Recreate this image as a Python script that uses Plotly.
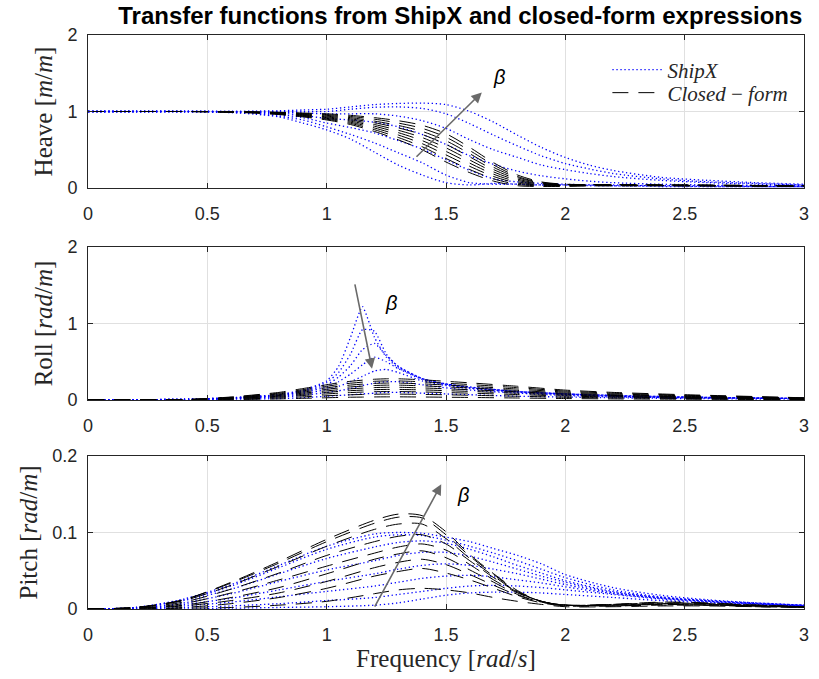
import plotly.graph_objects as go

# ---------------- data ----------------
heave_freq = [0, 0.2, 0.4, 0.5, 0.6, 0.7, 0.8, 0.9, 1.0, 1.1, 1.2, 1.3, 1.4, 1.5, 1.6, 1.7, 1.8, 1.9, 2.0, 2.1, 2.2, 2.4, 2.6, 2.8, 3.0]
heave_shipx = [
    [1, 1, 1, 1, 1, 1.005, 1.01, 1.02, 1.03, 1.06, 1.09, 1.105, 1.11, 1.09, 1.0, 0.86, 0.69, 0.53, 0.4, 0.3, 0.23, 0.14, 0.1, 0.07, 0.05],
    [1, 1, 1, 1, 1, 1, 1.0, 1.0, 1.0, 1.03, 1.055, 1.06, 1.04, 0.97, 0.84, 0.69, 0.55, 0.42, 0.32, 0.25, 0.19, 0.12, 0.08, 0.06, 0.04],
    [1, 1, 1, 1, 1, 0.995, 0.99, 0.98, 0.97, 0.97, 0.97, 0.94, 0.88, 0.78, 0.63, 0.5, 0.4, 0.3, 0.24, 0.19, 0.15, 0.1, 0.07, 0.05, 0.04],
    [1, 1, 1, 1, 0.995, 0.99, 0.98, 0.95, 0.91, 0.89, 0.86, 0.8, 0.7, 0.57, 0.42, 0.31, 0.22, 0.16, 0.12, 0.09, 0.07, 0.05, 0.04, 0.03, 0.03],
    [1, 1, 1, 1, 0.995, 0.985, 0.96, 0.92, 0.85, 0.79, 0.72, 0.62, 0.51, 0.37, 0.23, 0.12, 0.08, 0.06, 0.05, 0.04, 0.04, 0.03, 0.03, 0.02, 0.02],
    [1, 1, 1, 0.995, 0.99, 0.975, 0.94, 0.89, 0.8, 0.7, 0.59, 0.46, 0.33, 0.17, 0.07, 0.05, 0.05, 0.04, 0.04, 0.04, 0.03, 0.03, 0.02, 0.02, 0.02],
    [1, 1, 1, 0.995, 0.985, 0.965, 0.93, 0.85, 0.76, 0.64, 0.47, 0.3, 0.17, 0.07, 0.04, 0.06, 0.05, 0.04, 0.04, 0.03, 0.03, 0.02, 0.02, 0.02, 0.02],
]
heave_closed = [
    [1, 1, 1, 1, 1, 0.995, 0.99, 0.98, 0.97, 0.95, 0.92, 0.88, 0.82, 0.71, 0.53, 0.33, 0.17, 0.08, 0.05, 0.045, 0.045, 0.042, 0.038, 0.034, 0.03],
    [1, 1, 1, 1, 1, 0.994, 0.987, 0.974, 0.96, 0.935, 0.9, 0.849, 0.78, 0.664, 0.489, 0.3, 0.15, 0.072, 0.047, 0.043, 0.043, 0.04, 0.037, 0.033, 0.03],
    [1, 1, 1, 1, 0.998, 0.992, 0.985, 0.968, 0.95, 0.92, 0.875, 0.818, 0.74, 0.618, 0.448, 0.27, 0.135, 0.065, 0.043, 0.041, 0.041, 0.038, 0.035, 0.032, 0.029],
    [1, 1, 1, 1, 0.997, 0.99, 0.982, 0.962, 0.94, 0.905, 0.853, 0.786, 0.7, 0.571, 0.406, 0.24, 0.117, 0.057, 0.04, 0.039, 0.039, 0.036, 0.034, 0.031, 0.028],
    [1, 1, 1, 1, 0.996, 0.989, 0.978, 0.956, 0.93, 0.89, 0.83, 0.755, 0.66, 0.525, 0.365, 0.21, 0.1, 0.05, 0.036, 0.037, 0.037, 0.034, 0.033, 0.03, 0.027],
    [1, 1, 1, 1, 0.995, 0.987, 0.975, 0.95, 0.92, 0.875, 0.808, 0.724, 0.62, 0.479, 0.324, 0.18, 0.082, 0.042, 0.033, 0.035, 0.035, 0.033, 0.031, 0.029, 0.026],
    [1, 1, 1, 0.998, 0.993, 0.985, 0.97, 0.943, 0.91, 0.86, 0.785, 0.693, 0.58, 0.433, 0.283, 0.15, 0.065, 0.035, 0.03, 0.033, 0.033, 0.032, 0.03, 0.028, 0.025],
    [1, 1, 1, 0.997, 0.992, 0.982, 0.965, 0.937, 0.9, 0.845, 0.763, 0.661, 0.54, 0.386, 0.241, 0.12, 0.047, 0.027, 0.026, 0.031, 0.031, 0.031, 0.029, 0.027, 0.025],
    [1, 1, 1, 0.995, 0.99, 0.98, 0.96, 0.93, 0.89, 0.83, 0.74, 0.63, 0.5, 0.34, 0.2, 0.09, 0.03, 0.02, 0.022, 0.029, 0.029, 0.03, 0.028, 0.026, 0.024],
]

roll_freq = [0, 0.4, 0.6, 0.8, 0.9, 1.0, 1.05, 1.1, 1.15, 1.2, 1.25, 1.3, 1.4, 1.5, 1.6, 1.8, 2.0, 2.2, 2.5, 3.0]
roll_shipx = [
    [0, 0.01, 0.03, 0.07, 0.13, 0.25, 0.44, 0.82, 1.22, 0.82, 0.56, 0.42, 0.28, 0.21, 0.17, 0.11, 0.08, 0.06, 0.04, 0.02],
    [0, 0.01, 0.03, 0.07, 0.12, 0.23, 0.36, 0.6, 0.92, 0.9, 0.6, 0.44, 0.28, 0.21, 0.17, 0.11, 0.08, 0.06, 0.04, 0.02],
    [0, 0.01, 0.03, 0.06, 0.11, 0.2, 0.3, 0.45, 0.66, 0.74, 0.58, 0.44, 0.28, 0.21, 0.16, 0.11, 0.08, 0.06, 0.04, 0.02],
    [0, 0.01, 0.02, 0.06, 0.1, 0.17, 0.24, 0.34, 0.46, 0.56, 0.5, 0.41, 0.27, 0.2, 0.16, 0.11, 0.08, 0.05, 0.03, 0.02],
    [0, 0.01, 0.02, 0.05, 0.08, 0.14, 0.18, 0.24, 0.31, 0.38, 0.4, 0.36, 0.25, 0.19, 0.15, 0.1, 0.07, 0.05, 0.03, 0.02],
    [0, 0.0, 0.02, 0.04, 0.06, 0.1, 0.12, 0.15, 0.19, 0.22, 0.24, 0.24, 0.2, 0.16, 0.13, 0.09, 0.06, 0.04, 0.03, 0.02],
    [0, 0.0, 0.01, 0.02, 0.03, 0.05, 0.06, 0.07, 0.08, 0.09, 0.1, 0.1, 0.09, 0.08, 0.07, 0.05, 0.04, 0.03, 0.02, 0.01],
]
roll_closed = [
    [0, 0.005, 0.04, 0.1, 0.15, 0.2, 0.225, 0.245, 0.26, 0.272, 0.278, 0.278, 0.265, 0.245, 0.225, 0.18, 0.13, 0.1, 0.07, 0.03],
    [0, 0.005, 0.036, 0.09, 0.135, 0.18, 0.203, 0.22, 0.234, 0.245, 0.25, 0.25, 0.239, 0.22, 0.203, 0.162, 0.117, 0.09, 0.063, 0.027],
    [0, 0.004, 0.032, 0.08, 0.12, 0.16, 0.18, 0.196, 0.208, 0.218, 0.222, 0.222, 0.212, 0.196, 0.18, 0.144, 0.104, 0.08, 0.056, 0.024],
    [0, 0.004, 0.028, 0.07, 0.105, 0.14, 0.158, 0.172, 0.182, 0.19, 0.195, 0.195, 0.186, 0.172, 0.158, 0.126, 0.091, 0.07, 0.049, 0.021],
    [0, 0.003, 0.024, 0.06, 0.09, 0.12, 0.135, 0.147, 0.156, 0.163, 0.167, 0.167, 0.159, 0.147, 0.135, 0.108, 0.078, 0.06, 0.042, 0.018],
    [0, 0.003, 0.02, 0.05, 0.075, 0.1, 0.113, 0.123, 0.13, 0.136, 0.139, 0.139, 0.133, 0.123, 0.113, 0.09, 0.065, 0.05, 0.035, 0.015],
    [0, 0.002, 0.016, 0.04, 0.06, 0.08, 0.09, 0.098, 0.104, 0.109, 0.111, 0.111, 0.106, 0.098, 0.09, 0.072, 0.052, 0.04, 0.028, 0.012],
    [0, 0.001, 0.011, 0.028, 0.042, 0.056, 0.063, 0.069, 0.073, 0.076, 0.078, 0.078, 0.074, 0.069, 0.063, 0.05, 0.036, 0.028, 0.02, 0.008],
    [0, 0.001, 0.006, 0.015, 0.023, 0.03, 0.034, 0.037, 0.039, 0.041, 0.042, 0.042, 0.04, 0.037, 0.034, 0.027, 0.02, 0.015, 0.011, 0.005],
]

pitch_freq = [0, 0.2, 0.4, 0.6, 0.8, 1.0, 1.2, 1.3, 1.4, 1.5, 1.6, 1.7, 1.8, 1.9, 2.0, 2.2, 2.4, 2.6, 2.8, 3.0]
pitch_shipx = [
    [0, 0.002, 0.013, 0.032, 0.057, 0.082, 0.098, 0.1, 0.099, 0.094, 0.088, 0.079, 0.07, 0.059, 0.045, 0.028, 0.018, 0.012, 0.008, 0.005],
    [0, 0.002, 0.012, 0.03, 0.054, 0.078, 0.094, 0.097, 0.096, 0.09, 0.082, 0.073, 0.063, 0.052, 0.041, 0.025, 0.016, 0.011, 0.008, 0.005],
    [0, 0.002, 0.011, 0.026, 0.046, 0.066, 0.081, 0.087, 0.089, 0.086, 0.078, 0.068, 0.057, 0.047, 0.037, 0.023, 0.015, 0.011, 0.007, 0.005],
    [0, 0.001, 0.008, 0.02, 0.036, 0.051, 0.063, 0.07, 0.074, 0.074, 0.069, 0.061, 0.052, 0.043, 0.035, 0.022, 0.015, 0.01, 0.007, 0.005],
    [0, 0.001, 0.006, 0.014, 0.025, 0.036, 0.046, 0.052, 0.057, 0.059, 0.057, 0.052, 0.046, 0.039, 0.032, 0.021, 0.014, 0.01, 0.007, 0.004],
    [0, 0.0, 0.004, 0.009, 0.016, 0.023, 0.03, 0.035, 0.04, 0.043, 0.044, 0.042, 0.038, 0.034, 0.029, 0.02, 0.014, 0.01, 0.007, 0.004],
    [0, 0.0, 0.002, 0.004, 0.007, 0.011, 0.015, 0.019, 0.023, 0.027, 0.03, 0.031, 0.03, 0.028, 0.025, 0.019, 0.013, 0.009, 0.006, 0.004],
    [0, 0.0, 0.0, 0.001, 0.002, 0.003, 0.005, 0.008, 0.013, 0.018, 0.021, 0.022, 0.022, 0.021, 0.019, 0.015, 0.011, 0.008, 0.006, 0.004],
]
pitch_closed = [
    [0, 0.002, 0.012, 0.035, 0.062, 0.091, 0.116, 0.124, 0.122, 0.101, 0.071, 0.046, 0.024, 0.01, 0.005, 0.006, 0.009, 0.008, 0.005, 0.003],
    [0, 0.002, 0.012, 0.034, 0.06, 0.088, 0.112, 0.12, 0.119, 0.097, 0.069, 0.045, 0.023, 0.01, 0.005, 0.006, 0.008, 0.007, 0.005, 0.003],
    [0, 0.002, 0.011, 0.031, 0.056, 0.082, 0.104, 0.111, 0.111, 0.092, 0.066, 0.043, 0.022, 0.01, 0.005, 0.006, 0.008, 0.007, 0.005, 0.003],
    [0, 0.002, 0.009, 0.026, 0.047, 0.07, 0.088, 0.095, 0.097, 0.085, 0.063, 0.041, 0.022, 0.01, 0.005, 0.005, 0.007, 0.006, 0.004, 0.003],
    [0, 0.001, 0.007, 0.021, 0.038, 0.056, 0.073, 0.081, 0.085, 0.077, 0.058, 0.038, 0.021, 0.01, 0.005, 0.005, 0.007, 0.006, 0.004, 0.003],
    [0, 0.001, 0.005, 0.015, 0.028, 0.046, 0.065, 0.072, 0.076, 0.067, 0.051, 0.035, 0.019, 0.009, 0.005, 0.005, 0.006, 0.005, 0.004, 0.002],
    [0, 0.001, 0.004, 0.011, 0.021, 0.036, 0.054, 0.061, 0.065, 0.058, 0.045, 0.031, 0.018, 0.009, 0.005, 0.004, 0.006, 0.005, 0.004, 0.002],
    [0, 0.0, 0.002, 0.007, 0.015, 0.027, 0.043, 0.049, 0.053, 0.047, 0.038, 0.027, 0.016, 0.008, 0.004, 0.004, 0.005, 0.005, 0.003, 0.002],
    [0, 0.0, 0.001, 0.002, 0.005, 0.01, 0.02, 0.025, 0.027, 0.025, 0.021, 0.015, 0.01, 0.006, 0.003, 0.003, 0.004, 0.004, 0.003, 0.002],
]

x_ticks = [0, 0.5, 1, 1.5, 2, 2.5, 3]
x_ticklabels = ["0", "0.5", "1", "1.5", "2", "2.5", "3"]
heave_ticks = [0, 1, 2]
roll_ticks = [0, 1, 2]
pitch_ticks = [0, 0.1, 0.2]
pitch_ticklabels = ["0", "0.1", "0.2"]

title_text = "Transfer functions from ShipX and closed-form expressions"
y_titles = ["Heave [<i>m</i>/<i>m</i>]", "Roll [<i>rad</i>/<i>m</i>]", "Pitch [<i>rad</i>/<i>m</i>]"]
x_title = "Frequency [<i>rad</i>/<i>s</i>]"
legend_names = ["<i>ShipX</i>", "<i>Closed</i> − <i>form</i>"]

# ---------------- figure ----------------
fig = go.Figure()
BLUE = "rgb(0,0,255)"
AXC = "#262626"
GRID = "#e0e0e0"
SERIF = "Liberation Serif, DejaVu Serif, serif"
SANS = "Liberation Sans, Arial, sans-serif"

panels = [
    (heave_freq, heave_shipx, heave_closed, "x", "y", 0.8),
    (roll_freq, roll_shipx, roll_closed, "x2", "y2", 0.5),
    (pitch_freq, pitch_shipx, pitch_closed, "x3", "y3", 0.8),
]
for pi, (fq, ship, closed, xa, ya, sm) in enumerate(panels):
    for k, yv in enumerate(ship):
        fig.add_trace(go.Scatter(
            x=fq, y=yv, xaxis=xa, yaxis=ya, mode="lines",
            line=dict(color=BLUE, width=1.3, dash="1.3px,2.7px", shape="spline", smoothing=sm),
            name=legend_names[0], legendgroup="ship", legend="legend",
            showlegend=(pi == 0 and k == 0), hoverinfo="skip"))
    for k, yv in enumerate(closed):
        fig.add_trace(go.Scatter(
            x=fq, y=yv, xaxis=xa, yaxis=ya, mode="lines",
            line=dict(color="black", width=1, dash="16px,10px", shape="spline", smoothing=sm),
            name=legend_names[1], legendgroup="closed", legend="legend2",
            showlegend=(pi == 0 and k == 0), hoverinfo="skip"))

common_axis = dict(
    showline=True, linecolor=AXC, linewidth=1, mirror="ticks",
    ticks="inside", ticklen=5, tickcolor=AXC, tickwidth=1,
    showgrid=True, gridcolor=GRID, gridwidth=1, zeroline=False,
    tickfont=dict(family=SANS, size=18, color=AXC),
)

domains = [[0.7334, 1.0], [0.364, 0.6307], [0.0, 0.2666]]
yranges = [[0, 2], [0, 2], [0, 0.2]]
ytickvals = [heave_ticks, roll_ticks, pitch_ticks]
yticktext = [["0", "1", "2"], ["0", "1", "2"], pitch_ticklabels]

legend_common = dict(x=0.7254, xanchor="left", yanchor="middle",
                     bgcolor="rgba(0,0,0,0)", borderwidth=0,
                     font=dict(family=SERIF, size=21, color=AXC),
                     tracegroupgap=0, itemwidth=50)
layout = dict(
    width=819, height=679,
    margin=dict(l=88, r=10, t=35, b=70),
    paper_bgcolor="white", plot_bgcolor="white",
    title=dict(text="<b>" + title_text + "</b>", x=0.562, xanchor="center",
               y=1 - 16 / 679, yanchor="middle", yref="container",
               font=dict(family=SANS, size=24, color="black")),
    legend=dict(legend_common, y=(609 - 70) / 574),
    legend2=dict(legend_common, y=(609 - 93) / 574),
    showlegend=True,
)
for i in range(3):
    suffix = "" if i == 0 else str(i + 1)
    xa = dict(common_axis, domain=[0, 1], range=[0, 3], tickvals=x_ticks,
              ticktext=x_ticklabels, anchor="y" + suffix, ticklabelstandoff=9)
    if i == 2:
        xa["title"] = dict(text=x_title, font=dict(family=SERIF, size=25, color=AXC), standoff=3)
    ya = dict(common_axis, domain=domains[i], range=yranges[i], tickvals=ytickvals[i],
              ticktext=yticktext[i], anchor="x" + suffix, ticklabelstandoff=6,
              title=dict(text=y_titles[i], font=dict(family=SERIF, size=25, color=AXC), standoff=7))
    layout["xaxis" + suffix] = xa
    layout["yaxis" + suffix] = ya

fig.update_layout(**layout)

# arrows with beta labels
arrows = [
    ("x", "y", 1.37, 0.39, 1.65, 1.25, 1.72, 1.45),
    ("x2", "y2", 1.117, 1.53, 1.19, 0.41, 1.27, 1.27),
    ("x3", "y3", 1.198, 0.001, 1.48, 0.163, 1.57, 0.149),
]
for xa, ya, x0, y0, x1, y1, bx, by in arrows:
    fig.add_annotation(x=x1, y=y1, ax=x0, ay=y0, xref=xa, yref=ya, axref=xa, ayref=ya,
                       showarrow=True, arrowhead=2, arrowsize=1.3, arrowwidth=1.6,
                       arrowcolor="#6a6a6a", text="")
    fig.add_annotation(x=bx, y=by, xref=xa, yref=ya, text="<i>β</i>", showarrow=False,
                       font=dict(family=SANS, size=20, color="black"))

fig.write_html("out.html")
